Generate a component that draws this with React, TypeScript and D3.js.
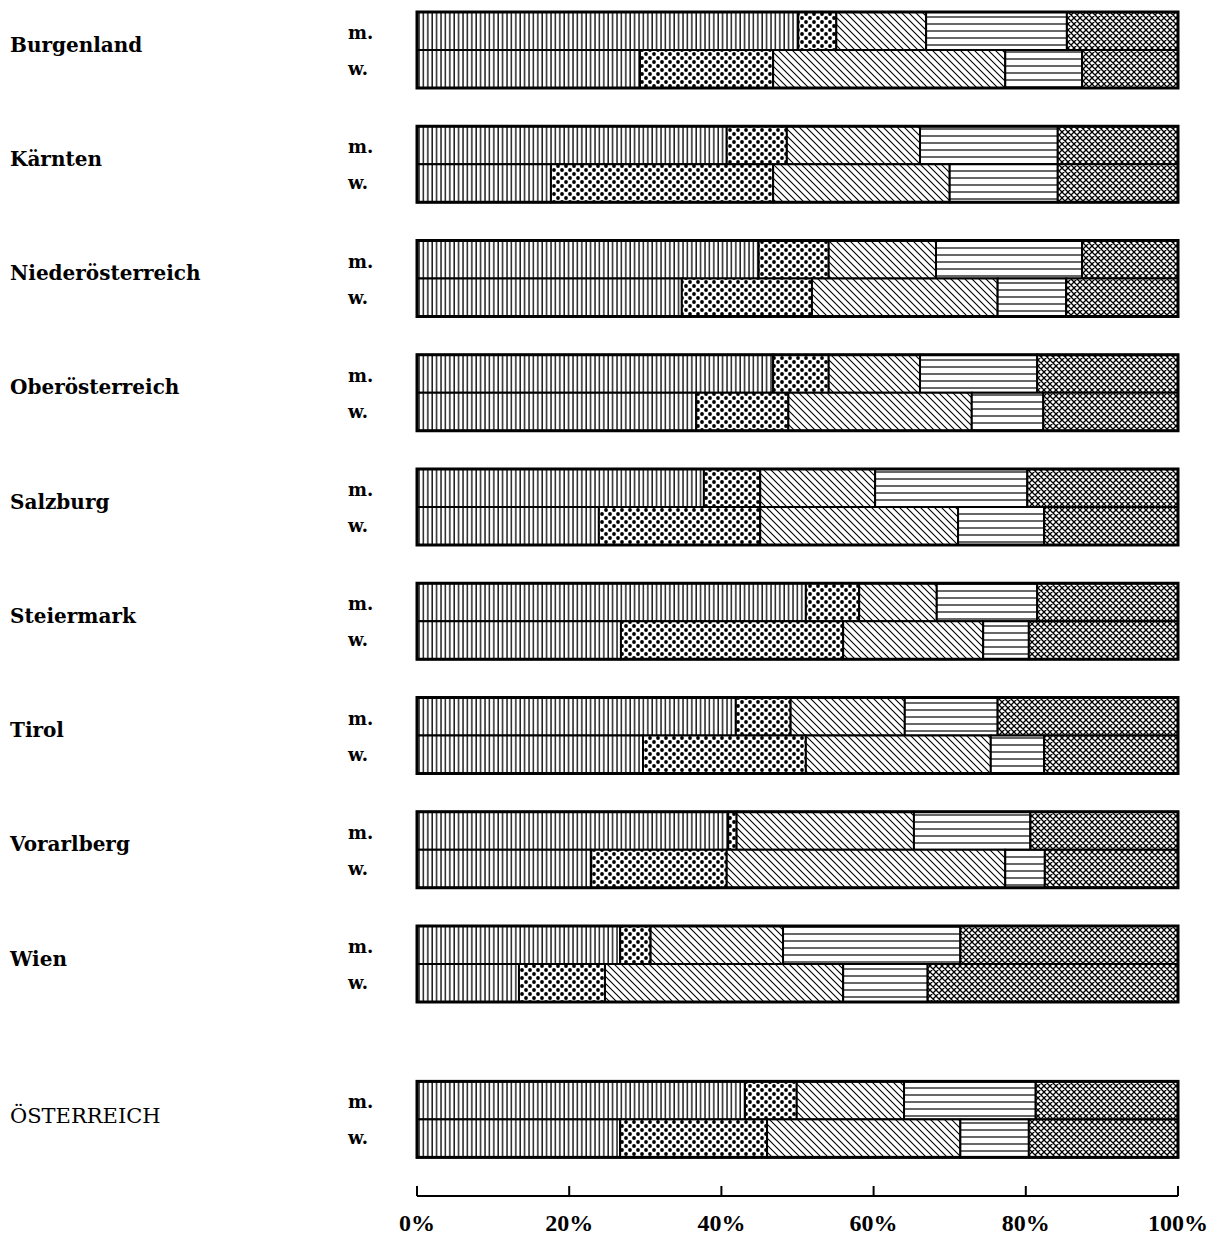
import React, { useEffect, useRef } from 'react';
import * as d3 from 'd3';

// Bundesländer + Österreich gesamt
const regions = [
  'Burgenland', 'Kärnten', 'Niederösterreich', 'Oberösterreich', 'Salzburg',
  'Steiermark', 'Tirol', 'Vorarlberg', 'Wien', 'ÖSTERREICH',
];
const sexes = ['m.', 'w.'];

// Anteile der fünf Kategorien (in %), je Region männlich / weiblich
const male = [
  [50.1, 5.0, 11.8, 18.5, 14.6],
  [40.7, 7.9, 17.5, 18.1, 15.8],
  [44.9, 9.2, 14.1, 19.2, 12.6],
  [46.8, 7.3, 12.0, 15.4, 18.5],
  [37.7, 7.4, 15.1, 20.0, 19.8],
  [51.1, 7.0, 10.2, 13.2, 18.5],
  [41.9, 7.2, 15.0, 12.2, 23.7],
  [40.9, 1.1, 23.3, 15.3, 19.4],
  [26.7, 4.0, 17.4, 23.3, 28.6],
  [43.1, 6.8, 14.1, 17.3, 18.7],
];
const female = [
  [29.3, 17.5, 30.5, 10.1, 12.6],
  [17.6, 29.2, 23.2, 14.2, 15.8],
  [34.8, 17.1, 24.4, 9.0, 14.7],
  [36.7, 12.1, 24.1, 9.4, 17.7],
  [23.9, 21.2, 26.0, 11.3, 17.6],
  [26.8, 29.2, 18.4, 6.0, 19.6],
  [29.7, 21.4, 24.3, 7.0, 17.6],
  [22.9, 17.8, 36.6, 5.2, 17.5],
  [13.4, 11.3, 31.3, 11.1, 32.9],
  [26.7, 19.3, 25.4, 9.0, 19.6],
];
const patterns = ['vert', 'dots', 'diag', 'horiz', 'cross'];
const ticks = [0, 20, 40, 60, 80, 100];

const App: React.FC = () => {
  const svgRef = useRef<SVGSVGElement>(null);

  useEffect(() => {
    if (!svgRef.current) return;
    const svg = d3.select(svgRef.current);
    svg.selectAll('*').remove();

    const width = 1210;
    const height = 1235;
    svg.attr('width', width).attr('height', height);

    const x = d3.scaleLinear().domain([0, 100]).range([417, 1178]);
    // Österreich steht etwas abgesetzt
    const slot = (i: number) => (i < 9 ? i : 9.36);
    const y = d3.scaleLinear().domain([0, 8]).range([12, 926]);
    const barH = 38;

    // Schraffuren
    const defs = svg.append('defs');
    const mk = (id: string, w: number, h: number) =>
      defs.append('pattern').attr('id', id).attr('patternUnits', 'userSpaceOnUse')
        .attr('width', w).attr('height', h);

    const pv = mk('vert', 4.4, 10);
    pv.append('rect').attr('width', 4.4).attr('height', 10).attr('fill', '#fff');
    pv.append('line').attr('x1', 1).attr('x2', 1).attr('y1', 0).attr('y2', 10)
      .attr('stroke', '#000').attr('stroke-width', 1.3);

    const pd = mk('dots', 8, 8);
    pd.append('rect').attr('width', 8).attr('height', 8).attr('fill', '#fff');
    [[2, 2], [6, 6]].forEach(([cx, cy]) =>
      pd.append('circle').attr('cx', cx).attr('cy', cy).attr('r', 1.9).attr('fill', '#000'));

    const pg = mk('diag', 7, 7);
    pg.append('rect').attr('width', 7).attr('height', 7).attr('fill', '#fff');
    pg.append('path').attr('d', 'M0,0 L7,7 M-1,6 L1,8 M6,-1 L8,1')
      .attr('stroke', '#000').attr('stroke-width', 1.1);

    const ph = mk('horiz', 10, 7);
    ph.append('rect').attr('width', 10).attr('height', 7).attr('fill', '#fff');
    ph.append('line').attr('x1', 0).attr('x2', 10).attr('y1', 3).attr('y2', 3)
      .attr('stroke', '#000').attr('stroke-width', 1.2);

    const pc = mk('cross', 6, 6);
    pc.append('rect').attr('width', 6).attr('height', 6).attr('fill', '#fff');
    pc.append('path').attr('d', 'M0,0 L6,6 M6,0 L0,6 M-1,5 L1,7 M5,-1 L7,1 M-1,1 L1,-1 M5,7 L7,5')
      .attr('stroke', '#000').attr('stroke-width', 1.3);

    const font = "'DejaVu Serif', 'Liberation Serif', serif";

    regions.forEach((name, i) => {
      const top = y(slot(i));
      svg.append('text')
        .attr('x', 10).attr('y', top + (i === 9 ? 36 : 34))
        .attr('dominant-baseline', 'middle')
        .style('font-family', font)
        .style('font-size', i === 9 ? '21px' : '20px')
        .style('font-weight', i === 9 ? 'normal' : '600')
        .text(name);

      [male[i], female[i]].forEach((vals, s) => {
        const by = top + s * barH;
        svg.append('text')
          .attr('x', 348).attr('y', by + barH / 2 + (s === 0 ? 3 : 1))
          .attr('dominant-baseline', 'middle')
          .style('font-family', font)
          .style('font-size', '18px')
          .style('font-weight', 'bold')
          .text(sexes[s]);

        const stack = d3.cumsum(vals);
        const starts = [0, ...Array.from(stack).slice(0, -1)];
        vals.forEach((v, k) => {
          svg.append('rect')
            .attr('x', x(starts[k]))
            .attr('y', by)
            .attr('width', x(starts[k] + v) - x(starts[k]))
            .attr('height', barH)
            .attr('fill', `url(#${patterns[k]})`)
            .attr('stroke', '#000')
            .attr('stroke-width', 2);
        });
      });
      svg.append('rect')
        .attr('x', x(0)).attr('y', top)
        .attr('width', x(100) - x(0)).attr('height', barH * 2)
        .attr('fill', 'none').attr('stroke', '#000').attr('stroke-width', 3);
    });

    // Achse
    const axisY = 1196;
    svg.append('line')
      .attr('x1', x(0)).attr('x2', x(100)).attr('y1', axisY).attr('y2', axisY)
      .attr('stroke', '#000').attr('stroke-width', 2);
    ticks.forEach((t) => {
      svg.append('line')
        .attr('x1', x(t)).attr('x2', x(t)).attr('y1', axisY).attr('y2', axisY - 10)
        .attr('stroke', '#000').attr('stroke-width', 2);
      svg.append('text')
        .attr('x', x(t)).attr('y', 1231)
        .attr('text-anchor', 'middle')
        .style('font-family', "'Liberation Serif', serif")
        .style('font-size', '24px')
        .style('font-weight', 'bold')
        .text(`${t}%`);
    });
  }, []);

  return (
    <div style={{ position: 'absolute', left: 0, top: 0, background: '#fff' }}>
      <svg ref={svgRef}></svg>
    </div>
  );
};

export default App;
